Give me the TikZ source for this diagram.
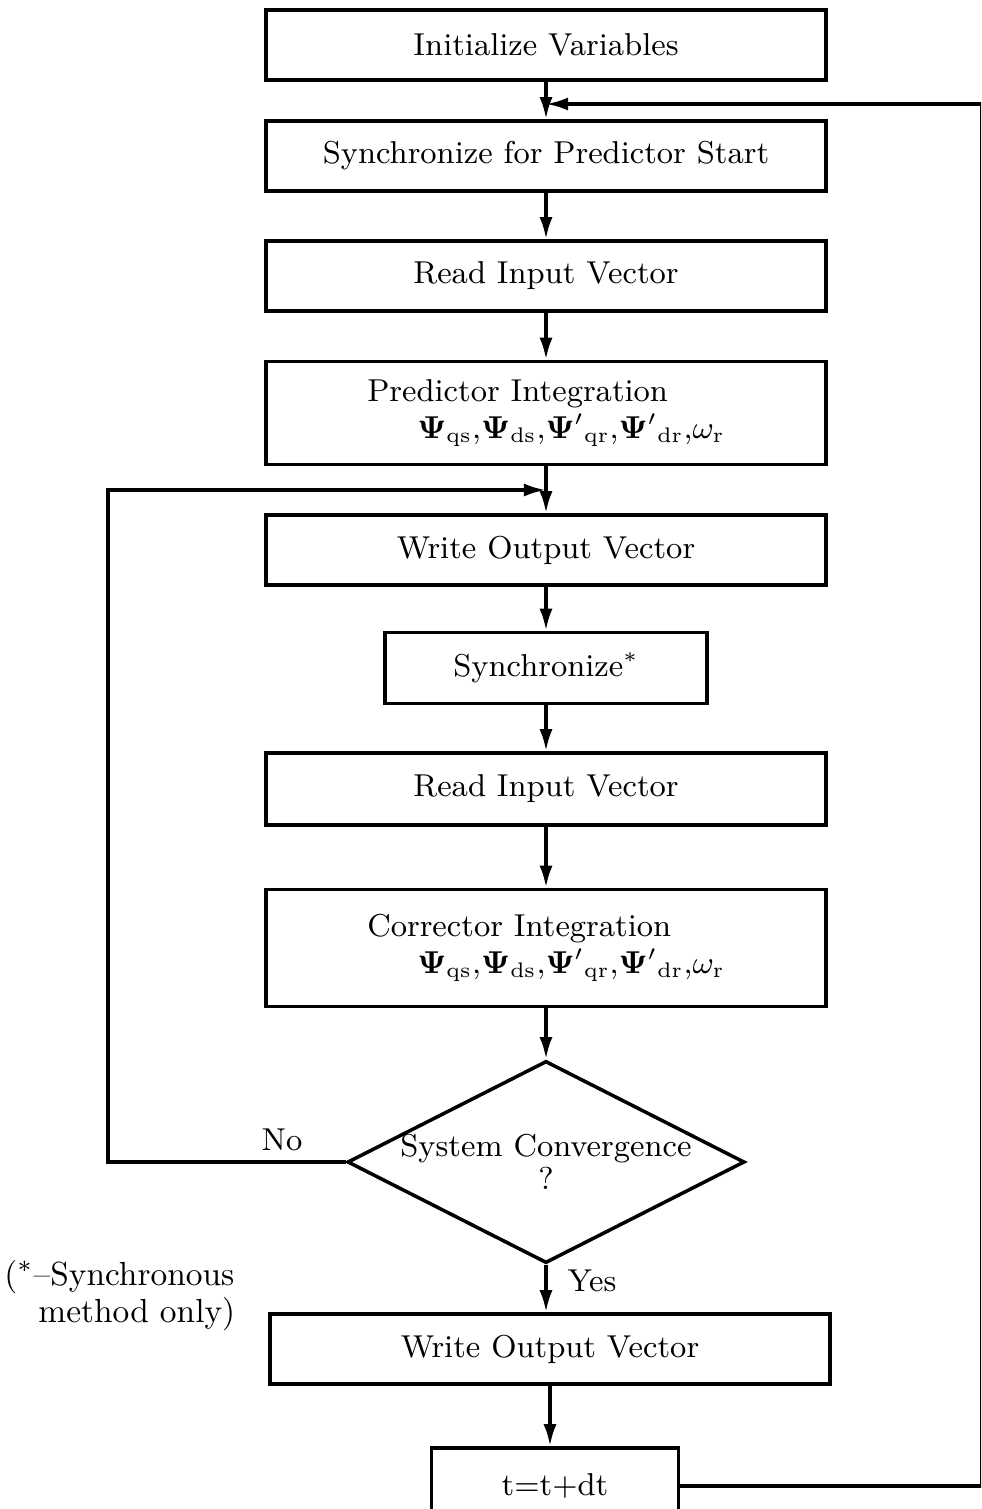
\documentclass[tikz,border=0pt]{standalone}
\usepackage{amsmath}
\usepackage{tikz}
\usetikzlibrary{arrows.meta, shapes.geometric}
\tikzset{>={Latex[length=2.2mm, width=1.3mm]}}
\tikzset{
    block/.style={draw, line width=1pt, minimum width=5.6cm, minimum height=.7cm, inner sep=0pt},
    flow/.style={->, line width=1pt},
}
\newcommand*{\flx}[1]{\mathbf{\Psi}_{\mathrm{#1}}}
\newcommand*{\flxp}[1]{\mathbf{\Psi}'{}_{\mathrm{#1}}}
\newcommand*{\fluxes}{$\flx{qs}{,}\flx{ds}{,}\flxp{qr}{,}\flxp{dr}{,}\omega_{\mathrm{r}}$}

\begin{document}
\begin{tikzpicture}[x=.01cm, y=-.01cm, font=\fontsize{9}{9.5}\selectfont]
    \path[use as bounding box, clip](0, 0) rectangle (981, 1509);
    \node[block](init)at(546, 45){Initialize Variables};
    \node[block](sync)at(546, 156){Synchronize for Predictor Start};
    \node[block](read)at(546, 276){Read Input Vector};
    \node[block, minimum height=1.03cm, align=left](pred)at(546, 413){Predictor Integration\\[1pt]\hspace*{5mm}\fluxes};
    \node[block](write)at(546, 550){Write Output Vector};
    \node[block, minimum width=3.22cm, minimum height=.71cm](synca)at(546, 668){Synchronize$^*$};
    \node[block, minimum height=.72cm](reada)at(546, 789){Read Input Vector};
    \node[block, minimum height=1.17cm, align=left](corr)at(546, 948){Corrector Integration\\[1pt]\hspace*{5mm}\fluxes};
    \node[diamond, draw, line width=1pt, aspect=2, minimum width=3.97cm, minimum height=2.02cm, inner sep=0pt](conv)at(546, 1162){};
    \node[align=center](convtxt)at(conv.center){System Convergence\\?};
    \node[block](writea)at(550, 1349){Write Output Vector};
    \node[block, minimum width=2.47cm, minimum height=.76cm](tinc)at(555, 1486){t$=$t$+$dt};
    % labels
    \node(no)at(282, 1140){No};
    \node(yes)at(592, 1281){Yes};
    \node[font=\fontsize{9.5}{10.5}\selectfont, align=left, anchor=north west](note)at(-8, 1248){($^*$--Synchronous\\\hspace*{3.4mm}method only)};
    % junctions
    \coordinate(jtop)at(546, 104);
    \coordinate(jmid)at(546, 490);
    \coordinate(rtop)at(982, 104);
    \coordinate(lft)at(108, 490);
    % main flow
    \draw[flow](init)--(sync);
    \draw[flow](sync)--(read);
    \draw[flow](read)--(pred);
    \draw[flow](pred)--(write);
    \draw[flow](write)--(synca);
    \draw[flow](synca)--(reada);
    \draw[flow](reada)--(corr);
    \draw[flow](corr)--(conv);
    \draw[flow](conv.south)--(conv.south |- writea.north);
    \draw[flow](writea.south)--(writea.south |- tinc.north);
    % loops
    \draw[flow](conv.west)-|(lft)--(jmid);
    \draw[flow](tinc.east)-|(rtop)--(jtop);
\end{tikzpicture}
\end{document}
